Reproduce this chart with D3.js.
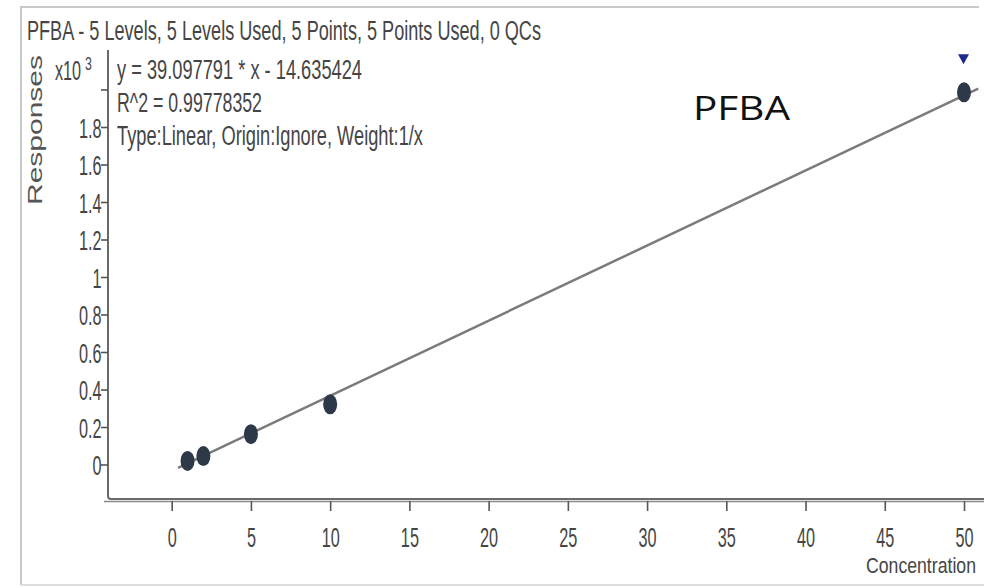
<!DOCTYPE html>
<html><head><meta charset="utf-8">
<script src="https://cdn.jsdelivr.net/npm/d3@7"></script>
<style>body{margin:0;background:#fff} svg{display:block}</style>
</head><body>
<svg id="c" width="984" height="588"></svg>
<script>
// ---- data ----
const concentrations = [1, 2, 5, 10, 50];
const responses = [19, 45, 162, 321, 1985];
const fitLineX = [0.4, 50.9];
const fitLineY = [-18, 2005];
const xTicks = [0, 5, 10, 15, 20, 25, 30, 35, 40, 45, 50];
const yTicks = [0, 200, 400, 600, 800, 1000, 1200, 1400, 1600, 1800, 2000];
const yTickLabels = ["0", "0.2", "0.4", "0.6", "0.8", "1", "1.2", "1.4", "1.6", "1.8", ""];
const titleText = "PFBA - 5 Levels, 5 Levels Used, 5 Points, 5 Points Used, 0 QCs";
const equationLines = ["y = 39.097791 * x  - 14.635424", "R^2 = 0.99778352", "Type:Linear, Origin:Ignore, Weight:1/x"];
const compoundName = "PFBA";
const xAxisTitle = "Concentration";
const yAxisTitle = "Responses";
const exponentBase = "x10";
const exponentPower = "3";
const flaggedLevel = [50];

const svg = d3.select("#c");
const FONT = "'Liberation Sans', Arial, sans-serif";
const TXT = "#454545";

const x = d3.scaleLinear().domain([0, 50]).range([171.7, 964]);
const y = d3.scaleLinear().domain([0, 2000]).range([464.5, 89.5]);

// outer frame
const frame = svg.append("g").attr("stroke", "#c9c9c9").attr("stroke-width", 2).attr("fill", "none");
frame.append("path").attr("d", "M20,7H979");
frame.append("path").attr("d", "M21,7V585");
frame.append("path").attr("d", "M21,585H984").attr("stroke", "#dedede");

// title
svg.append("text").attr("x", 27).attr("y", 40).attr("font-family", FONT).attr("font-size", 27)
  .attr("fill", TXT).attr("textLength", 514).attr("lengthAdjust", "spacingAndGlyphs").text(titleText);

// plot frame (left + bottom)
svg.append("path").attr("d", "M108,50V496Q108,499 111,499H984").attr("fill", "none")
  .attr("stroke", "#6a6a6a").attr("stroke-width", 2);
svg.append("path").attr("d", "M104,501.5H984").attr("stroke", "#8a8a8a").attr("stroke-width", 1.5);

// y axis
const yAxis = svg.append("g").attr("transform", "translate(108,0)")
  .call(d3.axisLeft(y).tickValues(yTicks).tickSize(7).tickPadding(3)
    .tickFormat((d, i) => yTickLabels[i]));
yAxis.select(".domain").remove();
yAxis.selectAll(".tick line").attr("stroke", "#555").attr("stroke-width", 1.6);
yAxis.selectAll(".tick text").attr("font-family", FONT).attr("font-size", 28).attr("fill", TXT)
  .attr("x", -11).attr("transform", "scale(0.58,1)").attr("dy", "0.36em");

// exponent
const ex = svg.append("g").attr("font-family", FONT).attr("fill", TXT);
ex.append("text").attr("transform", "translate(55,80) scale(0.6,1)").attr("font-size", 27).text(exponentBase);
ex.append("text").attr("transform", "translate(85,70) scale(0.65,1)").attr("font-size", 19).text(exponentPower);

// y title
svg.append("text").attr("transform", "translate(42,130) rotate(-90)").attr("text-anchor", "middle")
  .attr("font-family", FONT).attr("font-size", 21).attr("fill", "#555")
  .attr("textLength", 150).attr("lengthAdjust", "spacingAndGlyphs").text(yAxisTitle);

// x axis
const xAxis = svg.append("g").attr("transform", "translate(0,501)")
  .call(d3.axisBottom(x).tickValues(xTicks).tickSize(10).tickPadding(8).tickFormat(d3.format("d")));
xAxis.select(".domain").remove();
xAxis.selectAll(".tick line").attr("stroke", "#555").attr("stroke-width", 1.6);
xAxis.selectAll(".tick text").attr("font-family", FONT).attr("font-size", 28).attr("fill", TXT)
  .attr("transform", "scale(0.58,1)").attr("dy", "1.0em");

// x title (condensed by scaling to the measured width)
const xt = svg.append("text").attr("font-family", FONT).attr("font-size", 23).attr("fill", TXT).text(xAxisTitle);
const natW = xt.node().getComputedTextLength() || 150;
const sx = 110 / natW;
xt.attr("transform", `translate(866,573) scale(${sx},1)`);

// equation text
const eqW = [245, 145, 306];
const eqY = [79, 112, 145];
equationLines.forEach((t, i) => {
  svg.append("text").attr("x", 117).attr("y", eqY[i]).attr("font-family", FONT).attr("font-size", 27)
    .attr("fill", TXT).attr("textLength", eqW[i]).attr("lengthAdjust", "spacingAndGlyphs").text(t);
});

// fit line
svg.append("path").datum(fitLineX.map((d, i) => [d, fitLineY[i]]))
  .attr("d", d3.line().x(d => x(d[0])).y(d => y(d[1])))
  .attr("stroke", "#7b7b7b").attr("stroke-width", 2.5).attr("fill", "none");

// points
svg.append("g").selectAll("ellipse").data(concentrations).join("ellipse")
  .attr("cx", d => x(d)).attr("cy", (d, i) => y(responses[i]))
  .attr("rx", 7).attr("ry", 10).attr("fill", "#2d3848");

// flag marker
svg.append("g").selectAll("path").data(flaggedLevel).join("path")
  .attr("transform", d => `translate(${x(d) - 0.5},${y(responses[concentrations.indexOf(d)]) - 33})`)
  .attr("d", "M-5.5,-5H5.5L0,5Z").attr("fill", "#1e2a8a");

// compound name
svg.append("text").attr("x", 693).attr("y", 120).attr("font-family", "'Open Sans', 'Noto Sans', sans-serif")
  .attr("font-size", 33).attr("fill", "#111").attr("textLength", 97).attr("lengthAdjust", "spacingAndGlyphs")
  .text(compoundName);
</script>
</body></html>
